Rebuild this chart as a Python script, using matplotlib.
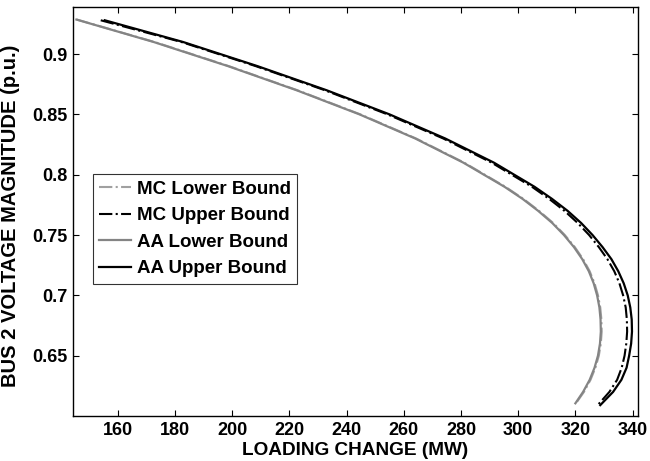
import numpy as np
import matplotlib
matplotlib.use("Agg")
import matplotlib.pyplot as plt
from matplotlib.ticker import FormatStrFormatter

# Voltage levels (p.u.) along the PV curves
v_upper = [0.928, 0.91, 0.89, 0.87, 0.85, 0.83, 0.81, 0.79, 0.78, 0.77, 0.76, 0.75,
           0.74, 0.73, 0.72, 0.71, 0.70, 0.69, 0.68, 0.67, 0.66, 0.65, 0.64, 0.63,
           0.62, 0.609]
aa_upper = [155.4, 182.8, 208.8, 233.0, 255.0, 274.5, 291.5, 305.7, 311.8, 317.3, 322.0, 326.0,
            329.5, 332.6, 335.0, 336.9, 338.3, 339.2, 339.7, 339.8, 339.5, 338.8, 337.9, 336.1,
            333.2, 328.7]
mc_upper = [154.0, 182.2, 208.2, 232.4, 254.3, 273.8, 290.7, 304.8, 310.8, 316.2, 320.8, 324.8,
            328.2, 331.2, 333.6, 335.4, 336.7, 337.6, 338.0, 338.1, 337.8, 337.2, 336.2, 334.6,
            331.9, 327.8]

v_lower = [0.9286, 0.91, 0.89, 0.87, 0.85, 0.83, 0.81, 0.79, 0.78, 0.77, 0.76, 0.75,
           0.74, 0.73, 0.72, 0.71, 0.70, 0.69, 0.68, 0.67, 0.66, 0.65, 0.64, 0.63,
           0.62, 0.6105]
aa_lower = [145.5, 172.5, 198.5, 222.5, 244.5, 264.0, 280.8, 295.2, 301.5, 307.0, 311.9, 316.0,
            319.5, 322.4, 324.7, 326.4, 327.6, 328.4, 328.8, 328.9, 328.6, 327.9, 326.7, 325.0,
            322.7, 320.0]
mc_lower = [145.6, 172.8, 198.8, 222.8, 244.8, 264.3, 281.1, 295.5, 301.8, 307.3, 312.2, 316.3,
            319.8, 322.7, 325.0, 326.7, 327.9, 328.7, 329.1, 329.2, 328.9, 328.2, 327.0, 325.3,
            323.0, 320.2]

xticks = [160, 180, 200, 220, 240, 260, 280, 300, 320, 340]
yticks = [0.65, 0.7, 0.75, 0.8, 0.85, 0.9]

plt.rcParams['font.family'] = ['Liberation Sans', 'DejaVu Sans']
plt.rcParams['font.weight'] = 'bold'

fig = plt.figure(figsize=(6.5, 4.61), dpi=100)
ax = fig.add_axes([73/650, 45/461, (638-73)/650, (416-7)/461])

ax.plot(mc_lower, v_lower, linestyle='-.', color='#a0a0a0', lw=1.5, label='MC Lower Bound')
ax.plot(mc_upper, v_upper, linestyle='-.', color='black', lw=1.5, label='MC Upper Bound')
ax.plot(aa_lower, v_lower, linestyle='-', color='#848484', lw=1.6, label='AA Lower Bound')
ax.plot(aa_upper, v_upper, linestyle='-', color='black', lw=1.6, label='AA Upper Bound')

ax.set_xlim(144.3, 341.9)
ax.set_ylim(0.6, 0.939)
ax.set_xticks(xticks)
ax.set_yticks(yticks)
ax.yaxis.set_major_formatter(FormatStrFormatter('%g'))
ax.tick_params(direction='in', length=4, width=0.8, top=True, right=True,
               labelsize=13, pad=4)
for lab in ax.get_xticklabels() + ax.get_yticklabels():
    lab.set_fontweight('bold')
for s in ax.spines.values():
    s.set_linewidth(1.0)

ax.set_xlabel('LOADING CHANGE (MW)', fontsize=13.7, fontweight='bold', labelpad=2.5)
ax.set_ylabel('BUS 2 VOLTAGE MAGNITUDE (p.u.)', fontsize=14.5, fontweight='bold', labelpad=3)
ax.yaxis.set_label_coords(-0.093, 0.49)

leg = ax.legend(loc='upper left', bbox_to_anchor=((92.7-73)/565, (416-174)/409),
                borderaxespad=0, fontsize=13.5, frameon=True, fancybox=False,
                handlelength=1.7, handletextpad=0.3, borderpad=0.35, labelspacing=0.5)
leg.get_frame().set_edgecolor('black')
leg.get_frame().set_linewidth(0.8)
for t in leg.get_texts():
    t.set_fontweight('bold')

fig.savefig('out.png', dpi=100)
